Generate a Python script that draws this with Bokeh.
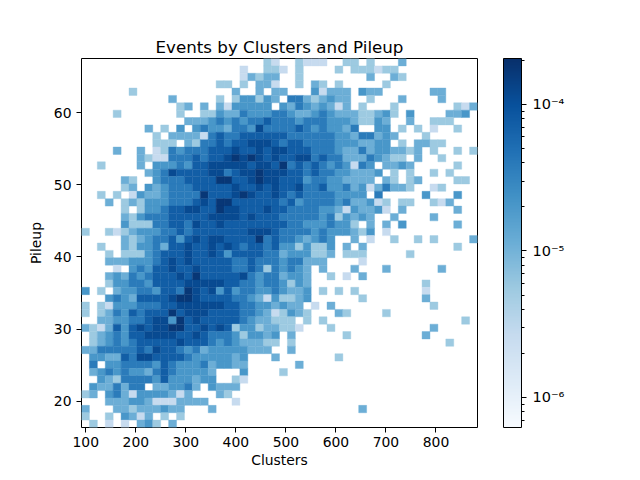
import numpy as np
from bokeh.plotting import figure
from bokeh.models import (ColumnDataSource, LogColorMapper, ColorBar, FixedTicker,
                          CustomJSTickFormatter)
from bokeh.palettes import Blues256
from bokeh.embed import file_html
from bokeh.resources import INLINE

# ---------------- data ----------------
TITLE = "Events by Clusters and Pileup"
X_LABEL = "Clusters"
Y_LABEL = "Pileup"
X_TICKS = [100, 200, 300, 400, 500, 600, 700, 800]
Y_TICKS = [20, 30, 40, 50, 60]
CLUSTERS_RANGE = [91.4, 883.0]      # histogram x extent
PILEUP_RANGE = [16.36, 67.5]        # histogram y extent
N_BINS = 50
DENSITY_MIN = 6.23e-7
DENSITY_MAX = 2.06e-4
CBAR_TICKS = [1e-6, 1e-5, 1e-4]
CBAR_MINOR = [7e-7, 8e-7, 9e-7,
              2e-6, 3e-6, 4e-6, 5e-6, 6e-6, 7e-6, 8e-6, 9e-6,
              2e-5, 3e-5, 4e-5, 5e-5, 6e-5, 7e-5, 8e-5, 9e-5,
              2e-4]
# estimated density per read intensity level ('.' = empty bin)
LEVEL_DENSITY = {"1": 2.63e-6, "2": 5.6e-6, "3": 1.12e-5, "4": 2.05e-5,
                 "5": 3.9e-5, "6": 7.4e-5, "7": 1.15e-4, "8": 1.72e-4}
# bin intensities, top row (high pileup) first, columns left -> right
DENSITY_ROWS = [
    ".......... .......... ...21..211 1..22.2... 3.........",
    ".......... .......... 1..221.2.. ..2.222122 ..........",
    ".......... .......... 13233..2.. ......3..3 2.........",
    ".......... .......22. 2.331..2.3 2.2.....2. ..........",
    "......2... .........3 ..3.33...4 1333.433.. ....33....",
    ".......... .3.....2.2 44243.5532 3433..2... 3....3....",
    ".......... ..23.3.314 4444.43543 4313.2...2 .......213",
    "....2..... ..2..22433 5444554334 5433322342 .4....334.",
    ".......... ...3334545 4556555455 544432243. .3..222...",
    "........3. 2.4.454435 5475555654 54435..44. 2.2.1..2..",
    ".........2 .333315655 6666665555 5544355343 ...2......",
    ".........2 22.3255656 6777656655 554443344. 2.3322....",
    "....3..3.1 2545556667 6676776665 5543353443 323.2..2.2",
    ".......321 1555656678 7876766775 6553335432 2.3..2....",
    "..2....3.4 4454667777 7677685656 5454154.33 43.....2..",
    "........34 5766667756 7787776656 55443334.2 .2..2.2...",
    ".....32..4 5556666886 6787766645 5443333.32 .23....22.",
    ".....23.43 4555666667 6676766755 6445341353 32..12....",
    "..2.2.1433 4555586667 8766765655 554444.5.. ...4...4..",
    "...3.23244 4555676886 6666656455 554533412. 22..213...",
    ".....2.244 5667766877 6667665555 443143341. 3......3..",
    ".....32455 5666667777 6766655555 4524343..3 ....3.....",
    ".....42225 5665766766 6666665544 45442.3.3. 4......3..",
    "2..2123444 5565666666 6777655554 5444324.1. ..........",
    ".....32345 5646767766 6685655434 54..3.1..2 ..2.2....3",
    "..2..32445 3667667676 5665644242 24.3.3.... .......2..",
    "...2.22245 6667667646 6665534442 23.222.... .2........",
    "...3334445 6767666665 5655545533 3....1.... ..........",
    "....1.4546 6766766665 565254543. 3...3...3. .....3....",
    "...3435456 6676866666 754553443. .2.1.3.... ..........",
    "...2445546 6667777766 554554243. .......... ...2......",
    "4.2.344554 6658767464 554454334. 2.2.2..... ...1......",
    "...4543666 6788766665 543142234. .....2.... ...3......",
    "2.21444555 6677777766 55443433.1 .3........ ....2.....",
    "2.23546566 6867776666 554312432. ..32....2. ..........",
    "..33445567 7486766666 5433222.2. 2......... ........2.",
    "3213646767 7886676762 44233221.. .2........ ....3.....",
    ".234546677 7766765554 24434.3... ...2...... ...3......",
    ".234545666 6676665454 33322.2... .......... ......2...",
    "3355555657 6654534444 4333..3... .......... ..........",
    ".443365776 6665444443 4...3..... ..2....... ..........",
    ".5.4455554 6544453443 3......3.. .......... ..........",
    ".345454435 6544443... 4....2.... .......... ..........",
    "..43255554 6444344..2 1......... .......... ..........",
    ".4335355.3 34453.4333 .......... .......... ..........",
    "23.4531444 4313...32. .......... .......... ..........",
    "...3334431 113333...1 .......... .......... ..........",
    "3...332333 433...3... .......... .....3.... ..........",
    "2..2.4313. 2.2....... .......... .......... ..........",
    ".2.1.1.342 .3........ .......... .......... ..........",
]

# ---------------- build bins ----------------
x_edges = np.linspace(CLUSTERS_RANGE[0], CLUSTERS_RANGE[1], N_BINS + 1)
y_edges = np.linspace(PILEUP_RANGE[0], PILEUP_RANGE[1], N_BINS + 1)
left, right, bottom, top, dens = [], [], [], [], []
for r, row in enumerate(DENSITY_ROWS):
    cells = row.replace(" ", "")
    assert len(cells) == N_BINS, (r, len(cells))
    yi = N_BINS - 1 - r
    for xi, ch in enumerate(cells):
        if ch == ".":
            continue
        left.append(x_edges[xi]); right.append(x_edges[xi + 1])
        bottom.append(y_edges[yi]); top.append(y_edges[yi + 1])
        dens.append(LEVEL_DENSITY[ch])
src = ColumnDataSource(dict(left=left, right=right, bottom=bottom, top=top, d=dens))

FONT = "DejaVu Sans"
mapper = LogColorMapper(palette=list(Blues256[::-1]), low=DENSITY_MIN, high=DENSITY_MAX)

p = figure(x_range=(CLUSTERS_RANGE[0], CLUSTERS_RANGE[1]),
           y_range=(PILEUP_RANGE[0], PILEUP_RANGE[1]),
           frame_width=396, frame_height=369,
           min_border_left=81, min_border_top=58, min_border_bottom=45,
           min_border_right=147,
           output_backend="svg", toolbar_location=None, title=TITLE)
p.quad(left="left", right="right", bottom="bottom", top="top", source=src,
       fill_color={"field": "d", "transform": mapper},
       line_color={"field": "d", "transform": mapper}, line_width=0.4)

p.title.text_font = FONT
p.title.text_font_size = "16.7px"
p.title.text_font_style = "normal"
p.title.text_color = "black"
p.title.align = "center"
p.title.standoff = 4

p.xgrid.visible = False
p.ygrid.visible = False
p.outline_line_color = "black"
p.outline_line_width = 1
p.outline_line_alpha = 1
p.background_fill_color = "white"
p.border_fill_color = "white"

for ax in (p.xaxis[0], p.yaxis[0]):
    ax.axis_line_color = None
    ax.major_tick_in = 0
    ax.major_tick_out = 5
    ax.minor_tick_line_color = None
    ax.major_tick_line_color = "black"
    ax.major_label_text_font = FONT
    ax.major_label_text_font_size = "13.9px"
    ax.major_label_text_color = "black"
    ax.axis_label_text_font = FONT
    ax.axis_label_text_font_size = "13.9px"
    ax.axis_label_text_font_style = "normal"
    ax.axis_label_text_color = "black"
p.xaxis.ticker = FixedTicker(ticks=X_TICKS)
p.yaxis.ticker = FixedTicker(ticks=Y_TICKS)
p.xaxis.axis_label = X_LABEL
p.yaxis.axis_label = Y_LABEL
p.xaxis.major_label_standoff = 4
p.yaxis.major_label_standoff = 5
p.xaxis.axis_label_standoff = 2
p.yaxis.axis_label_standoff = 7

fmt = CustomJSTickFormatter(code="""
const e = Math.round(Math.log10(tick));
const sup = {"-":"\u207b","0":"\u2070","1":"\u00b9","2":"\u00b2","3":"\u00b3",
             "4":"\u2074","5":"\u2075","6":"\u2076","7":"\u2077","8":"\u2078","9":"\u2079"};
return "10" + String(e).split("").map(c => sup[c]).join("");
""")
cbar = ColorBar(color_mapper=mapper,
                ticker=FixedTicker(ticks=CBAR_TICKS, minor_ticks=CBAR_MINOR),
                formatter=fmt, width=18, height=369, margin=0, padding=0,
                location=(26, 0),
                major_tick_in=0, major_tick_out=5, minor_tick_in=0, minor_tick_out=3,
                major_tick_line_color="black", minor_tick_line_color="black",
                bar_line_color="black", border_line_color=None,
                major_label_text_font=FONT, major_label_text_font_size="14.5px",
                major_label_text_color="black", label_standoff=6,
                background_fill_color=None)
p.add_layout(cbar, "right")

open("out.html", "w").write(file_html(p, INLINE))
